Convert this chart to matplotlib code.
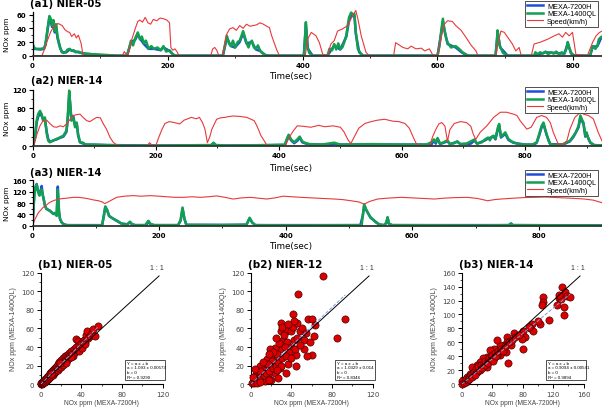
import numpy as np
import matplotlib
matplotlib.use('Agg')
import matplotlib.pyplot as plt
from matplotlib.ticker import MultipleLocator
from matplotlib.patches import Rectangle

# ---------------- time series data (t [s], value) ----------------
a1_speed = [(0,0),(14,0),(18,10),(22,22),(27,35),(32,43),(38,47),(44,44),(48,38),(52,35),(55,34),(58,28),(62,32),(65,26),(68,30),(70,24),(72,18),(75,0),
            (133,0),(136,6),(139,2),(141,0),(146,20),(152,39),(156,50),(159,52),(163,49),(167,56),(171,48),(175,46),(179,53),(184,51),(189,55),(194,54),(199,52),(203,48),(205,12),(208,8),(211,10),(214,6),(217,0),
            (264,0),(267,10),(270,12),(273,8),(276,0),(282,0),(287,30),(292,39),(297,41),(302,37),(307,44),(312,40),(317,46),(322,43),(327,44),(332,45),(337,48),(342,46),(347,43),(351,41),(354,30),(358,19),(362,8),(366,0),
            (404,0),(408,25),(413,34),(420,29),(425,19),(430,2),
            (437,0),(442,17),(447,22),(452,36),(459,39),(467,44),(474,58),(479,66),(482,54),(487,29),(494,5),(499,0),
            (535,0),(538,19),(546,14),(549,12),(556,10),(561,14),(568,10),(576,11),(581,7),(588,10),(593,1),
            (600,0),(605,25),(610,46),(615,51),(622,50),(627,44),(635,37),(642,27),(650,15),(657,7),(660,0),
            (686,0),(690,20),(694,36),(699,34),(706,24),(711,17),(716,7),(721,12),(724,0),
            (739,0),(743,17),(753,20),(763,24),(773,29),(780,32),(785,27),(790,34),(795,29),(800,34),(805,2),
            (822,0),(830,20),(835,29),(840,34),(844,36)]
a1_green = [(0,18),(2,12),(5,10),(12,10),(17,11),(19,16),(21,30),(23,45),(25,58),(27,54),(29,44),(31,52),(33,36),(35,46),(37,28),(39,20),(41,12),(43,6),(46,4),(49,5),(52,9),(55,10),(58,7),(61,8),(64,5),(68,6),(72,4),(78,3),(90,2),(110,1),(125,0),
            (140,0),(143,10),(146,22),(149,15),(152,25),(156,34),(159,24),(162,28),(165,18),(168,22),(172,10),(176,14),(180,10),(185,12),(190,8),(194,14),(198,6),(203,8),(208,2),(212,0),
            (282,0),(285,15),(288,29),(291,18),(294,14),(297,22),(300,12),(304,20),(307,22),(310,30),(312,36),(315,26),(317,19),(320,12),(322,18),(325,22),(328,12),(331,10),(334,15),(337,8),(340,4),(345,1),(350,0),
            (402,0),(404,30),(405,49),(407,15),(410,4),(415,0),
            (437,0),(440,10),(444,8),(447,17),(450,9),(453,18),(456,10),(459,12),(462,20),(465,30),(467,44),(469,56),(472,63),(475,60),(477,61),(479,34),(482,10),(487,2),(490,0),
            (600,0),(603,15),(606,40),(608,54),(610,39),(613,25),(615,19),(620,12),(627,14),(632,10),(637,5),(642,2),(645,0),
            (686,0),(688,20),(689,37),(692,15),(697,4),(704,0),
            (743,0),(745,5),(748,2),(752,5),(756,3),(760,6),(764,2),(768,5),(772,3),(776,6),(780,2),(784,5),(788,3),(791,10),(793,20),(795,12),(798,4),(803,0),
            (826,0),(830,14),(834,10),(837,15),(839,24),(842,27),(844,28)]
a1_blue = [(0,16),(3,10),(12,9),(17,10),(19,15),(21,28),(23,42),(25,55),(27,50),(29,42),(31,48),(33,34),(35,42),(37,26),(39,18),(41,11),(44,5),(50,5),(55,9),(60,7),(68,5),(78,3),(100,1),(125,0),
           (140,0),(146,20),(152,23),(156,31),(160,24),(165,17),(172,10),(180,10),(190,8),(194,12),(203,7),(210,0),
           (282,0),(288,26),(294,14),(300,12),(307,20),(312,33),(317,18),(325,20),(331,9),(337,7),(345,1),(350,0),
           (402,0),(405,46),(408,10),(415,0),(437,0),(447,15),(456,9),(465,28),(469,52),(472,59),(477,57),(479,32),(484,5),(490,0),
           (600,0),(606,36),(608,50),(611,34),(615,17),(627,12),(637,4),(645,0),(686,0),(689,34),(693,12),(704,0),
           (743,0),(760,5),(788,3),(793,18),(798,3),(803,0),(826,0),(830,13),(837,14),(842,25),(844,26)]

a2_speed = [(0,0),(2,0),(7,25),(12,43),(17,54),(23,55),(28,48),(34,41),(39,40),(45,43),(50,41),(55,47),(61,57),(66,65),(72,67),(77,68),(82,61),(88,54),(93,52),(99,57),(104,61),(110,60),(115,47),(120,36),(126,18),(131,8),(137,2),(142,0),
            (186,0),(190,7),(194,2),(200,0),(204,15),(210,35),(215,48),(222,52),(230,50),(239,47),(246,55),(252,58),(258,61),(266,58),(271,61),(276,50),(280,36),(284,7),(288,20),(291,35),(295,46),(299,57),(305,60),(312,61),(320,63),(326,64),(337,63),(348,61),(355,57),(360,54),(364,44),(367,35),(371,22),(375,14),(380,3),(386,0),
            (410,0),(413,8),(418,21),(424,33),(430,43),(440,42),(452,40),(465,44),(475,41),(488,43),(500,40),(506,30),(512,14),(517,5),(522,18),(530,38),(540,48),(550,52),(560,55),(572,57),(585,53),(595,52),(605,48),(612,38),(618,20),(623,6),(628,0),
            (645,0),(650,20),(655,35),(660,47),(665,50),(670,42),(674,10),(678,35),(685,48),(695,52),(705,50),(712,42),(716,25),(720,14),(727,29),
            (738,43),(749,61),(760,72),(770,72),(781,68),(787,65),(792,54),(803,36),(810,40),(819,61),(827,65),(835,61),(841,50),(846,29),(854,4),(862,4),(868,11),(873,36),(881,61),(890,72),(895,68),(903,65),(911,58),(919,29),(925,11)]
a2_green = [(0,0),(1,2),(4,20),(6.6,54),(9,68),(12,75),(14.7,68),(17,54),(20,61),(23,26),(25.5,11),(28,8),(34,12),(39,15),(44,18),(50,22),(55,33),(57,60),(58.5,95),(59.5,118),(61,89),(63,54),(66,61),(69,40),(71.6,50),(74,25),(77,8),(82,7),(86,3),(100,3),(120,2),(150,1),(200,1),
            (290,2),(294,7),(298,2),(320,1),(380,2),(410,3),(413,15),(416,24),(420,14),(425,8),(430,14),(434,20),(438,10),(442,7),(450,4),(470,3),(490,7),(500,3),(550,4),(600,3),(640,3),
            (648,8),(652,14),(655,8),(658,17),(662,5),(668,8),(674,12),(678,4),(685,6),(690,10),(695,4),(705,5),(712,10),(718,14),(722,5),(730,8),(735,14),(740,18),(743,12),(746,20),(749,22),(752,16),(756,40),(758,47),(761,20),(765,25),(768,29),(773,15),(778,10),(781,8),(789,4),(800,3),(812,3),
            (819,8),(823,25),(827,43),(830,50),(833,35),(835,26),(838,12),(841,4),(850,2),(862,4),(868,8),(873,11),(879,22),(883,30),(887,43),(890,65),(893,55),(895,50),(898,22),(900,29),(903,15),(906,8),(912,2),(925,1)]
a2_blue = [(0,0),(4,18),(6.6,50),(9,62),(12,70),(14.7,64),(17,58),(20,56),(23,30),(25.5,14),(28,9),(34,12),(39,14),(44,17),(50,20),(55,30),(57,55),(58.5,88),(59.5,110),(61,92),(63,58),(66,64),(69,44),(71.6,48),(74,22),(77,8),(86,3),(120,2),(200,1),
           (290,1),(294,6),(298,1),(320,1),(410,2),(413,13),(416,22),(420,12),(425,6),(430,11),(434,18),(438,8),(442,6),(450,3),(488,3),(490,6),(494,3),(600,3),
           (648,3),(652,12),(655,5),(658,15),(662,4),(674,10),(678,4),(690,9),(695,4),(712,5),(718,12),(722,5),(735,12),(740,16),(749,20),(752,14),(756,36),(758,44),(761,18),(768,26),(773,13),(781,7),(800,3),
           (815,3),(819,7),(823,22),(827,40),(830,47),(835,24),(841,4),(862,3),(873,10),(879,20),(887,40),(890,60),(895,47),(898,20),(900,26),(906,7),(912,2),(925,1)]

a3_speed = [(0,0),(2,12),(4,23),(7,36),(9,45),(13,55),(17,65),(22,73),(27,82),(33,88),(38,92),(45,95),(54,97),(64,100),(72,100),(80,98),(88,95),(96,91),(104,88),(110,84),(114,78),(118,82),(123,88),(133,100),(145,104),(159,106),(172,104),(186,106),(200,104),(212,102),(225,100),(238,100),(252,102),(265,100),(278,102),(291,105),(304,100),(317,94),(330,98),(344,100),(357,97),(370,94),(383,98),(396,104),(410,102),(424,100),(450,97),(477,94),(490,92),(503,88),(515,84),(524,76),(532,85),(545,94),(560,97),(582,100),(600,98),(618,96),(635,94),(650,97),(668,99),(687,100),(703,96),(719,88),(730,92),(740,94),(760,97),(775,99),(793,100),(810,101),(830,99),(850,97),(872,94),(886,90),(898,82),(900,81)]
a3_green = [(0,0),(1.5,60),(3,110),(5,135),(6.6,145),(8,130),(9.3,117),(11,106),(12.5,118),(14.5,128),(16,110),(17,100),(18.5,85),(19.7,70),(22,59),(25,55),(27.6,53),(30,48),(33,41),(35,44),(37,38),(38.2,35),(39.2,90),(40,126),(41,80),(42,47),(43.5,23),(46,12),(48.8,5),(54,2),(70,1),(100,1),
            (110,2),(113,40),(115,68),(118,55),(121,35),(125,28),(130,22),(135,16),(140,8),(146,4),(150,5),(154,14),(157,6),(162,2),(178,2),(183,17),(186,7),(192,2),(230,2),(234,20),(237,64),(240,25),(243,3),(300,2),(338,4),(343,28),(347,12),(352,2),(400,1),
            (520,2),(522,40),(524,75),(527,58),(530,45),(534,30),(538,22),(542,12),(548,4),(556,2),(559,12),(561,30),(563,8),(568,2),(700,1),(753,2),(756,8),(759,2),(900,1)]
a3_blue = [(0,0),(1.5,62),(3,112),(5,138),(6.6,147),(8,132),(9.3,118),(11,108),(12.5,120),(14.5,140),(16,112),(17,100),(18.5,84),(19.7,70),(22,60),(25,56),(27.6,52),(30,47),(33,42),(35,45),(37,38),(38.2,36),(39.2,95),(40,138),(41,82),(42,46),(43.5,24),(46,12),(48.8,6),(54,2),
           (110,2),(113,38),(115,66),(118,54),(121,34),(130,21),(140,8),(150,5),(154,13),(157,5),(162,2),(180,2),(183,16),(186,5),(192,2),(230,2),(234,18),(237,60),(240,24),(243,3),(338,3),(343,26),(347,11),(352,2),
           (518,2),(522,38),(524,72),(527,56),(534,28),(548,4),(556,2),(559,10),(561,28),(563,7),(568,2),(752,2),(756,7),(759,2),(900,1)]

# ---------------- scatter data (MEXA-7200H, MEXA-1400QL) ----------------
b1_pts = [(0.5,0.5),(1,2),(1.5,0.5),(0.5,1.5),(1,1),(2,1.5),(2,3),(3,2),(3,4),(4,3),(4,5.5),(5,4),(5,6),(6,5),(6,8),(7,6),(7,9),(8,7),(8,10),(9,8),(9,12),(10,9),(10,13),
          (11,11),(11,14),(12,10),(12,15),(13,12),(13,16),(14,13),(14,18),(15,14),(15,19),(16,16),(16,20),(17,15),(17,22),(18,18),(18,24),(19,20),(20,19),(20,26),(21,23),
          (22,21),(22,28),(23,25),(24,24),(24,30),(25,27),(26,26),(26,32),(27,29),(28,28),(28,34),(29,31),(30,36),(31,33),(32,30),(33,38),(34,35),(35,40),(35,49),(36,37),
          (37,46),(38,42),(38,36),(40,44),(41,39),(42,47),(43,48),(44,45),(45,53),(46,57),(47,50),(48,52),(50,55),(51,59),(53,52),(56,63),(44,43),(30,29),(25,23),(19,23),(10,11)]
b2_pts = [(71,116.5),(47,97),(42,75),(30,66),(93,70),(85,50),(56,70),(60,70),(63,64),(60,31),(45,20),(37,22),(30,57),(35,57),(40,57),(48,57),(52,48),(43,48),(32,48),
          (52,38),(45,32),(38,30),(55,30),(25,27),(29,38),(24,39),(19,38),(20,30),(16,27),(14,20),(16,16),(24,12),(27,7),(29,18),(9,20),(7,12),(4,9),(6,14),(3,5),(11,7),
          (17,9),(20,5),(14,4),(33,53),(36,45),(40,40),(46,50),(50,60),(54,55),(42,62),(38,35),(34,40),(28,44),(26,33),(22,35),(18,33),(21,25),(17,22),(12,24),(12,15),
          (10,10),(8,6),(5,3),(2,2),(1,1),(3,1),(6,1),(9,3),(13,10),(15,12),(18,14),(22,18),(25,20),(27,24),(31,28),(35,30),(40,28),(44,38),(48,42),(58,45),(62,52),(30,20),
          (35,12),(26,15),(18,5),(9,14),(4,16),(2,8),(46,66),(43,68),(25,50),(31,62),(37,65)]
b3_pts = [(132,139),(136,132),(138,127),(142,125),(127,123),(107,125),(106,118),(105,113),(125,113),(134,111),(134,99),(115,92),(103,87),(92,87),(90,80),(94,77),(81,77),
          (83,68),(79,65),(81,51),(68,73),(59,68),(59,61),(64,56),(55,56),(50,56),(58,46),(61,30),(46,63),(42,51),(37,49),(33,39),(28,37),(24,32),(26,25),(33,25),(20,27),
          (15,22),(13,25),(11,15),(7,10),(4,6),(2,3),(0,5),(15,15),(20,18),(24,20),(50,42),(46,42),(42,37),(1,1),(3,2),(5,4),(6,8),(8,6),(9,11),(10,8),(12,13),(14,11),
          (16,18),(18,14),(19,22),(21,20),(22,26),(25,28),(27,23),(29,31),(30,28),(31,34),(34,33),(35,30),(36,38),(38,36),(40,42),(41,34),(44,45),(45,40),(48,47),(52,50),
          (54,48),(57,55),(62,60),(66,64),(70,68),(75,70),(88,82),(130,122),(128,128),(100,90)]

b_stats = {
    'b1': ["Y = a x + b", "a = 1.093 \u00b1 0.00573", "b = 0", "R\u00b2 = 0.9290"],
    'b2': ["Y = a x + b", "a = 1.0329 \u00b1 0.014", "b = 0", "R\u00b2 = 0.8346"],
    'b3': ["Y = a x + b", "a = 0.9094 \u00b1 0.00541", "b = 0", "R\u00b2 = 0.9894"],
}
b_slope = {'b1': 1.093, 'b2': 1.0329, 'b3': 0.9094}

labels = ['MEXA-7200H', 'MEXA-1400QL', 'Speed(km/h)']
C_BLUE, C_GREEN, C_RED = '#1f4fd8', '#12a050', '#e8383a'

W, H = 602, 414
def fx(x): return x / W
def fy(y): return 1 - y / H

fig = plt.figure(figsize=(6.02, 4.14), dpi=100)


def ts_panel(x0, y0, pxu_x, pxu_y, ymax, ytop, ystep, title, ty, timey):
    xmax = (W - x0) / pxu_x
    ax = fig.add_axes([fx(x0), fy(y0), 1 - fx(x0), ymax * pxu_y / H])
    ax.set_xlim(0, xmax)
    ax.set_ylim(0, ymax)
    for s in ['top', 'right']:
        ax.spines[s].set_visible(False)
    ax.spines['left'].set_bounds(0, ytop)
    ax.spines['left'].set_linewidth(0.9)
    ax.spines['bottom'].set_linewidth(1.3)
    ax.spines['bottom'].set_color('#333333')
    ax.xaxis.set_major_locator(MultipleLocator(200))
    ax.xaxis.set_minor_locator(MultipleLocator(100))
    ax.yaxis.set_minor_locator(MultipleLocator(ystep / 2))
    ax.set_yticks([v for v in np.arange(0, ytop + 1, ystep)])
    ax.tick_params(which='major', length=3, width=0.8, pad=1.5, labelsize=5)
    ax.tick_params(which='minor', length=1.5, width=0.6)
    for lb in ax.get_xticklabels() + ax.get_yticklabels():
        lb.set_fontweight('bold')
    fig.text(fx(x0 - 2), fy(ty), title, fontsize=7.3, fontweight='bold', va='center', ha='left')
    fig.text(fx(291), fy(timey), 'Time(sec)', fontsize=6.3, va='center', ha='center')
    fig.text(fx(7), fy(y0 - ytop * pxu_y / 2), 'NOx ppm', fontsize=5.3, rotation=90, va='center', ha='center')
    return ax


def draw_ts(ax, blue, green, speed, legy):
    b = np.array(blue).T
    g = np.array(green).T
    s = np.array(speed).T
    l1, = ax.plot(b[0], b[1], color=C_BLUE, lw=1.8, solid_joinstyle='round')
    l2, = ax.plot(g[0], g[1], color=C_GREEN, lw=1.8, solid_joinstyle='round')
    l3, = ax.plot(s[0], s[1], color=C_RED, lw=0.8)
    leg = fig.legend([l1, l2, l3], labels, loc='upper left', bbox_to_anchor=(fx(525), fy(legy)),
                     frameon=True, fancybox=False, framealpha=1, edgecolor='#333333',
                     handlelength=2.3, handletextpad=0.5, labelspacing=0.05, borderpad=0.25,
                     borderaxespad=0, prop={'family': 'Liberation Sans', 'size': 5.2})
    leg.get_frame().set_linewidth(0.6)
    return leg


ax1 = ts_panel(32.5, 56.7, 0.675, 0.685, 67, 64, 20, '(a1) NIER-05', 4, 77)
draw_ts(ax1, a1_blue, a1_green, a1_speed, 2)
ax2 = ts_panel(32.6, 147, 0.6155, 0.469, 125, 120, 40, '(a2) NIER-14', 81, 168)
draw_ts(ax2, a2_blue, a2_green, a2_speed, 88)
ax3 = ts_panel(32.5, 226.7, 0.633, 0.2837, 165, 160, 40, '(a3) NIER-14', 173, 247)
draw_ts(ax3, a3_blue, a3_green, a3_speed, 171)


def sc_panel(x0, key, pts, lim, xstep, title):
    ax = fig.add_axes([fx(x0), fy(385.3), 122 / W, 111.7 / H])
    ax.set_xlim(0, lim)
    ax.set_ylim(0, lim)
    for s in ['top', 'right']:
        ax.spines[s].set_visible(False)
    for s in ['left', 'bottom']:
        ax.spines[s].set_linewidth(0.8)
    ax.xaxis.set_major_locator(MultipleLocator(xstep))
    ax.xaxis.set_minor_locator(MultipleLocator(xstep / 2))
    ax.yaxis.set_major_locator(MultipleLocator(20))
    ax.yaxis.set_minor_locator(MultipleLocator(10))
    ax.tick_params(which='major', length=3, width=0.7, pad=1.5, labelsize=5, labelcolor='#444444')
    ax.tick_params(which='minor', length=1.5, width=0.5)
    p = np.array(pts).T
    ax.scatter(p[0], p[1], s=27, c='#dd0000', edgecolors='#3a0000', linewidths=0.45, zorder=3, clip_on=False)
    one = lim * 0.97
    ax.plot([0, one], [0, one], color='black', lw=0.7, zorder=4)
    xr = p[0].max()
    ax.plot([0, xr], [0, xr * b_slope[key]], color='#7fa0e0', lw=0.7, ls='--', zorder=4)
    ax.text(one - 0.02 * lim, one + 0.04 * lim, '1 : 1', fontsize=5, ha='center', va='bottom',
            family='Liberation Sans', color='#333333')
    ax.add_patch(Rectangle((0.69, 0.04), 0.33, 0.18, transform=ax.transAxes, fill=False,
                           lw=0.6, edgecolor='#333333', clip_on=False, zorder=5))
    for i, line in enumerate(b_stats[key]):
        ax.text(0.71, 0.195 - i * 0.042, line, transform=ax.transAxes, fontsize=3.2,
                family='Liberation Sans', va='center', ha='left', zorder=6)
    fig.text(fx(x0 - 3), fy(265), title, fontsize=7.5, fontweight='bold', va='center', ha='left')
    ax.set_xlabel('NOx ppm (MEXA-7200H)', fontsize=4.8, color='#444444', family='Liberation Sans', labelpad=2)
    ax.set_ylabel('NOx ppm (MEXA-1400QL)', fontsize=5, color='#444444', family='Liberation Sans', labelpad=3)
    return ax


sc_panel(40.7, 'b1', b1_pts, 120, 40, '(b1) NIER-05')
sc_panel(250.7, 'b2', b2_pts, 120, 40, '(b2) NIER-12')
sc_panel(461.7, 'b3', b3_pts, 160, 40, '(b3) NIER-14')

fig.savefig('out.png', dpi=100)
